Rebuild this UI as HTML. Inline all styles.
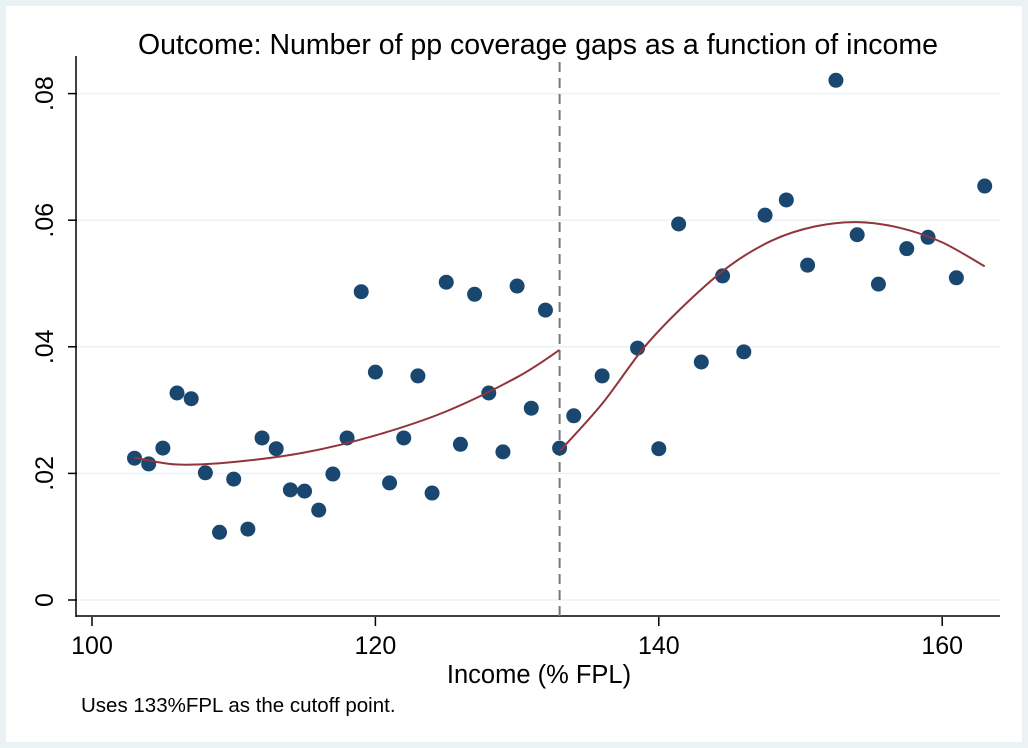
<!DOCTYPE html>
<html><head><meta charset="utf-8"><style>
body{margin:0;background:#eaf2f3;}
#wrap{position:absolute;left:0;top:0;width:1028px;height:748px;background:#eaf2f3;}
svg{position:absolute;left:0;top:0;font-family:"Liberation Sans",sans-serif;}
</style></head><body>
<div id="wrap">
<svg id="chart" width="1028" height="748"></svg>
</div>
<script>
const xTicks=[100,120,140,160];
const yTicks=[0,0.02,0.04,0.06,0.08];
const yTickLabels=["0",".02",".04",".06",".08"];
const pointX=[103,104,105,106,107,108,109,110,111,112,113,114,115,116,117,118,119,120,121,122,123,124,125,126,127,128,129,130,131,132,133,134,136,138.5,140,141.4,143,144.5,146,147.5,149,150.5,152.5,154,155.5,157.5,159,161,163];
const pointY=[.0224,.0215,.024,.0327,.0318,.0201,.0107,.0191,.0112,.0256,.0239,.0174,.0172,.0142,.0199,.0256,.0487,.036,.0185,.0256,.0354,.0169,.0502,.0246,.0483,.0327,.0234,.0496,.0303,.0458,.024,.0291,.0354,.0398,.0239,.0594,.0376,.0512,.0392,.0608,.0632,.0529,.0821,.0577,.0499,.0555,.0573,.0509,.0654];
const fitLeftX=[103,106,110,115,120,125,130,133];
const fitLeftY=[.0225,.0214,.0218,.0233,.026,.0298,.0352,.0395];
const fitRightX=[133,136,139,142,145,148,151,154,157,160,163];
const fitRightY=[.0235,.031,.040,.047,.0528,.0568,.059,.0597,.0588,.0565,.0527];
const cutoff=133;

const NS="http://www.w3.org/2000/svg";
const svg=document.getElementById('chart');
const xs=v=>92+(v-100)*14.17;
const ys=v=>600-v*6330;
function mk(tag,attrs,parent){const e=document.createElementNS(NS,tag);for(const k in attrs)e.setAttribute(k,attrs[k]);(parent||svg).appendChild(e);return e;}

const bg=mk('rect',{x:6,y:6,width:1016,height:736,fill:'#fff'});



yTicks.forEach((t,i)=>{
 const g=mk('line',{x1:78,x2:1000,y1:ys(t),y2:ys(t),stroke:'#eaf2f3','stroke-width':1.5});
 
 
 const tk=mk('line',{x1:68,x2:77,y1:ys(t),y2:ys(t),stroke:'#000','stroke-width':1.5});
 
 
 const tx=mk('text',{x:0,y:0,'font-size':25,'text-anchor':'middle',transform:`translate(53,${ys(t)}) rotate(-90)`});
 tx.textContent=yTickLabels[i];
 
 
});
xTicks.forEach(t=>{
 const tk=mk('line',{x1:xs(t),x2:xs(t),y1:617,y2:626,stroke:'#000','stroke-width':1.5});
 
 
 const tx=mk('text',{x:xs(t),y:654,'font-size':25,'text-anchor':'middle'});
 tx.textContent=t;
 
 
});
const ya=mk('line',{x1:76,x2:76,y1:56,y2:617,stroke:'#000','stroke-width':1.5});


const xa=mk('line',{x1:76,x2:1000,y1:616,y2:616,stroke:'#000','stroke-width':1.5});



const cl=mk('line',{x1:xs(cutoff),x2:xs(cutoff),y1:62,y2:616,stroke:'#777','stroke-width':2,'stroke-dasharray':'10,6'});



pointX.forEach((x,i)=>{
 const c=mk('circle',{cx:xs(x),cy:ys(pointY[i]),r:7.5,fill:'#1a476f'});
 
 
});

function spline(X,Y){
 const p=X.map((x,i)=>[xs(x),ys(Y[i])]);
 let d=`M${p[0][0]},${p[0][1]}`;
 for(let i=0;i<p.length-1;i++){
  const p0=p[i-1]||p[i],p1=p[i],p2=p[i+1],p3=p[i+2]||p[i+1];
  d+=` C${p1[0]+(p2[0]-p0[0])/6},${p1[1]+(p2[1]-p0[1])/6} ${p2[0]-(p3[0]-p1[0])/6},${p2[1]-(p3[1]-p1[1])/6} ${p2[0]},${p2[1]}`;
 }
 return d;
}
const f1=mk('path',{d:spline(fitLeftX,fitLeftY),fill:'none',stroke:'#90353b','stroke-width':2});


const f2=mk('path',{d:spline(fitRightX,fitRightY),fill:'none',stroke:'#90353b','stroke-width':2});



const title=mk('text',{x:538,y:54,'font-size':28.5,'text-anchor':'middle'});
title.textContent='Outcome: Number of pp coverage gaps as a function of income';


const xt=mk('text',{x:539,y:683,'font-size':25.5,'text-anchor':'middle'});
xt.textContent='Income (% FPL)';


const fn=mk('text',{x:81,y:712,'font-size':20.5});
fn.textContent='Uses 133%FPL as the cutoff point.';


</script>
</body></html>
